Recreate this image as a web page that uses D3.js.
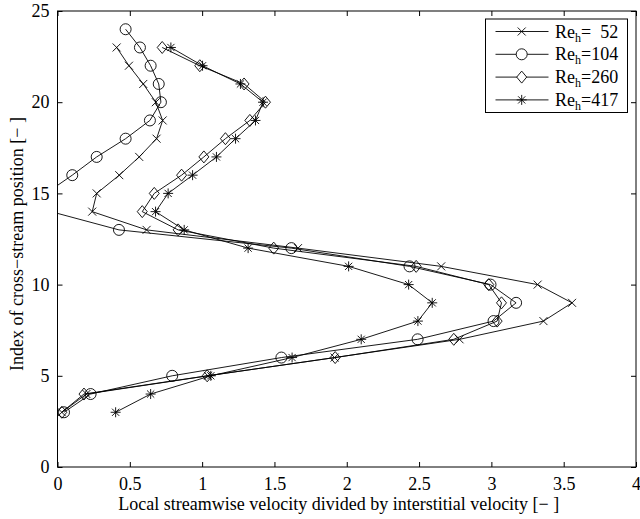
<!DOCTYPE html>
<html>
<head>
<meta charset="utf-8">
<script src="https://cdn.jsdelivr.net/npm/d3@7"></script>
<style>
  body { margin: 0; background: #fff; }
  svg text { font-family: "Liberation Serif", "DejaVu Serif", serif !important; fill: #000; }
</style>
</head>
<body>
<svg id="chart" width="640" height="519"></svg>
<script>
// cross-stream index (y) for each series
var idx23 = [3, 4, 5, 6, 7, 8, 9, 10, 11, 12, 13, 14, 15, 16, 17, 18, 19, 20, 21, 22, 23];
var idx24 = [3, 4, 5, 6, 7, 8, 9, 10, 11, 12, 13, 14, 15, 16, 17, 18, 19, 20, 21, 22, 23, 24];

// streamwise velocity / interstitial velocity (x)
var re52  = [0.03, 0.2, 1.04, 1.916, 2.78, 3.36, 3.558, 3.32, 2.653, 1.663, 0.616, 0.24, 0.271, 0.427, 0.565, 0.685, 0.727, 0.68, 0.593, 0.494, 0.409];
var re104 = [0.045, 0.229, 0.793, 1.548, 2.49, 3.015, 3.171, 2.994, 2.434, 1.617, 0.425, -0.045, -0.08, 0.102, 0.271, 0.471, 0.639, 0.715, 0.70, 0.644, 0.57, 0.471];
var re260 = [0.03, 0.183, 1.035, 1.92, 2.74, 3.04, 3.07, 2.982, 2.48, 1.495, 0.834, 0.586, 0.669, 0.858, 1.012, 1.161, 1.33, 1.438, 1.29, 0.984, 0.724];
var re417 = [0.402, 0.644, 1.06, 1.622, 2.10, 2.492, 2.591, 2.428, 2.013, 1.318, 0.876, 0.678, 0.765, 0.934, 1.099, 1.231, 1.369, 1.421, 1.265, 1.003, 0.784];

var legendNums = ["  52", "104", "260", "417"];
var xTicks = [0, 0.5, 1, 1.5, 2, 2.5, 3, 3.5, 4];
var yTicks = [0, 5, 10, 15, 20, 25];

var series = [
  {x: re52,  y: idx23, mk: "x"},
  {x: re104, y: idx24, mk: "o"},
  {x: re260, y: idx23, mk: "d"},
  {x: re417, y: idx23, mk: "*"}
];

var L = 57.5, R = 636, T = 11, B = 467;
var svg = d3.select("#chart");

var x = d3.scaleLinear().domain([0, 4]).range([L, R]);
var y = d3.scaleLinear().domain([0, 25]).range([B, T]);

svg.append("clipPath").attr("id", "clip")
  .append("rect").attr("x", L).attr("y", T).attr("width", R - L).attr("height", B - T);

// marker shapes, matlab style (unfilled)
function marker(type) {
  if (type == "x") return "M-4,-4L4,4M-4,4L4,-4";
  if (type == "o") return "M5.5,0A5.5,5.5 0 1 1 -5.5,0A5.5,5.5 0 1 1 5.5,0Z";
  if (type == "d") return "M0,-6L5,0L0,6L-5,0Z";
  return "M0,-5L0,5M-5,0L5,0M-3.6,-3.6L3.6,3.6M-3.6,3.6L3.6,-3.6";
}

var plot = svg.append("g").attr("clip-path", "url(#clip)");
var line = d3.line().x(function(d) { return x(d[0]); }).y(function(d) { return y(d[1]); });

series.forEach(function(s) {
  var pts = s.x.map(function(v, i) { return [v, s.y[i]]; });
  plot.append("path").datum(pts)
    .attr("d", line)
    .attr("fill", "none").attr("stroke", "#000").attr("stroke-width", 0.9);
  plot.selectAll(null).data(pts).enter().append("path")
    .attr("transform", function(d) { return "translate(" + x(d[0]) + "," + y(d[1]) + ")"; })
    .attr("d", marker(s.mk))
    .attr("fill", "none").attr("stroke", "#000").attr("stroke-width", 0.9);
});

// axes with inward ticks on all four sides
var fs = 18;
var gx = svg.append("g").attr("transform", "translate(0," + B + ")")
  .call(d3.axisBottom(x).tickValues(xTicks).tickFormat(d3.format("")).tickSizeInner(-5).tickSizeOuter(0).tickPadding(10));
var gy = svg.append("g").attr("transform", "translate(" + L + ",0)")
  .call(d3.axisLeft(y).tickValues(yTicks).tickFormat(d3.format("")).tickSizeInner(-5).tickSizeOuter(0).tickPadding(8));
var gt = svg.append("g").attr("transform", "translate(0," + T + ")")
  .call(d3.axisTop(x).tickValues(xTicks).tickFormat("").tickSizeInner(-5).tickSizeOuter(0));
var gr = svg.append("g").attr("transform", "translate(" + R + ",0)")
  .call(d3.axisRight(y).tickValues(yTicks).tickFormat("").tickSizeInner(-5).tickSizeOuter(0));

[gx, gy, gt, gr].forEach(function(g) {
  g.attr("font-family", null).attr("font-size", null);
  g.selectAll(".domain").remove();
  g.selectAll("line").attr("stroke", "#000");
  g.selectAll("text").attr("font-size", fs).attr("fill", "#000");
});

svg.append("rect").attr("x", L).attr("y", T).attr("width", R - L).attr("height", B - T)
  .attr("fill", "none").attr("stroke", "#000").attr("stroke-width", 1);

svg.append("text")
  .attr("x", (L + R) / 2 - 8).attr("y", 509.5)
  .attr("text-anchor", "middle").attr("font-size", fs)
  .text("Local streamwise velocity divided by interstitial velocity [\u2212 ]");

svg.append("text")
  .attr("transform", "translate(23,244) rotate(-90)")
  .attr("text-anchor", "middle").attr("font-size", fs)
  .text("Index of cross\u2212stream position [\u2212 ]");

// legend
var lg = svg.append("g");
lg.append("rect").attr("x", 485.5).attr("y", 19).attr("width", 142).attr("height", 93.5)
  .attr("fill", "#fff").attr("stroke", "#000").attr("stroke-width", 1);
series.forEach(function(s, i) {
  var yy = 31.5 + i * 22.8;
  lg.append("line").attr("x1", 495.5).attr("x2", 548.5).attr("y1", yy).attr("y2", yy)
    .attr("stroke", "#000").attr("stroke-width", 0.9);
  lg.append("path").attr("transform", "translate(521.7," + yy + ")").attr("d", marker(s.mk))
    .attr("fill", "#fff").attr("stroke", "#000").attr("stroke-width", 0.9);
  var t = lg.append("text").attr("x", 555).attr("y", yy + 6).attr("font-size", fs)
    .style("white-space", "pre");
  t.append("tspan").text("Re");
  t.append("tspan").attr("font-size", 12).attr("dy", 4).text("h");
  t.append("tspan").attr("dy", -4).text("=" + legendNums[i]);
});
</script>
</body>
</html>
